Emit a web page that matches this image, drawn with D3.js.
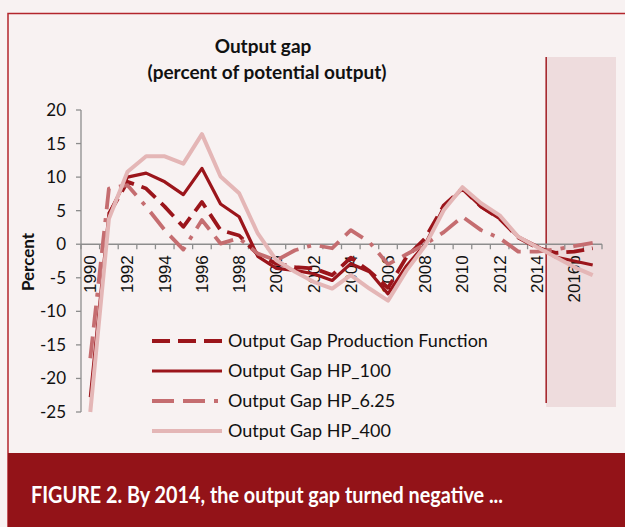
<!DOCTYPE html>
<html>
<head>
<meta charset="utf-8">
<script src="https://cdn.jsdelivr.net/npm/d3@7"></script>
<style>
  html, body { margin: 0; padding: 0; background: #f8f2f2; }
  svg { display: block; }
</style>
</head>
<body>
<div id="graf"></div>
<script>
// years on the category axis, 2016 and 2017 are projections
let years = d3.range(1990, 2018);
let yearLabels = years.map(y => y % 2 ? "" : (y >= 2016 ? y + "p" : String(y)));

let gapPF = [null, 4.5, 9.3, 8.3, 5.6, 2.6, 6.3, 2.1, 1.3, -1.5, -2.9, -3.4, -3.6, -4.6, -2.0, -4.0, -6.5, -1.9, 0.9, 5.8, 8.3, 5.6, 3.8, 1.0, -0.5, -1.3, -1.1, -0.6];
let gapHP100 = [-22.8, 4.5, 10.0, 10.6, 9.3, 7.4, 11.3, 6.0, 4.1, -1.8, -3.6, -3.9, -4.4, -5.4, -2.9, -4.1, -7.4, -3.2, 0.0, 5.5, 8.3, 5.6, 3.8, 1.1, -0.3, -1.9, -2.5, -3.1];
let gapHP625 = [-17.0, 8.3, 8.8, 5.6, 2.1, -0.8, 3.6, 0.1, 0.9, -1.4, -2.4, -0.9, -0.1, -0.6, 2.1, 0.3, -3.0, -1.5, 0.0, 1.8, 4.1, 2.1, 0.9, -1.1, -1.1, -0.8, -0.3, 0.2];
let gapHP400 = [-25.0, 3.8, 10.8, 13.1, 13.1, 12.0, 16.4, 10.1, 7.6, 1.6, -2.4, -4.1, -5.6, -6.6, -4.6, -6.6, -8.4, -3.9, -0.2, 5.1, 8.5, 6.1, 4.3, 1.1, -0.4, -1.9, -3.4, -4.6];

let seriesNames = ["Output Gap Production Function", "Output Gap HP_100", "Output Gap HP_6.25", "Output Gap HP_400"];
let yTicks = [20, 15, 10, 5, 0, -5, -10, -15, -20, -25];

let width = 625, height = 527;

let series = [
    {name: seriesNames[0], values: gapPF, color: "#9b151b", w: 3.8, dash: "18,8"},
    {name: seriesNames[1], values: gapHP100, color: "#9b151b", w: 3.2, dash: null},
    {name: seriesNames[2], values: gapHP625, color: "#c56d70", w: 3.8, dash: "22,9,22,9,4,9"},
    {name: seriesNames[3], values: gapHP400, color: "#e4b6b6", w: 4, dash: null}
];

let svg = d3.select("#graf").append("svg")
            .attr("width", width)
            .attr("height", height)
            .style("background", "#f8f2f2");

let x = d3.scaleBand().domain(years).range([81, 602]).padding(0);
let y = d3.scaleLinear().domain([-25, 20]).range([412, 110]);
let cx = d => x(d) + x.bandwidth() / 2;

// projection shading + divider between 2014 and 2015
svg.append("rect")
    .attr("x", x(2015)).attr("y", 57)
    .attr("width", 616 - x(2015)).attr("height", 350)
    .attr("fill", "#eedcdd");
svg.append("line")
    .attr("x1", x(2015)).attr("x2", x(2015))
    .attr("y1", 57).attr("y2", 403)
    .attr("stroke", "#a11c22").attr("stroke-width", 1.5);

// frame
svg.append("path")
    .attr("d", "M8,527 V13.5 H625")
    .attr("fill", "none")
    .attr("stroke", "#b3262d")
    .attr("stroke-width", 1.5);

// title
const title = svg.append("text")
    .attr("text-anchor", "middle")
    .style("font", "bold 19px Lato")
    .attr("fill", "#111");
title.append("tspan").attr("x", 263).attr("y", 53).text("Output gap");
title.append("tspan").attr("x", 267).attr("y", 79).text("(percent of potential output)");

// y axis
const axisColor = "#8d8d8d";
const yAxis = svg.append("g");
yAxis.append("line")
    .attr("x1", 81).attr("x2", 81)
    .attr("y1", y(20)).attr("y2", y(-25))
    .attr("stroke", axisColor).attr("stroke-width", 1.3);
yAxis.selectAll(".yt")
    .data(yTicks)
    .join("line")
    .attr("x1", 76).attr("x2", 81)
    .attr("y1", d => y(d)).attr("y2", d => y(d))
    .attr("stroke", axisColor).attr("stroke-width", 1.3);
yAxis.selectAll("text")
    .data(yTicks)
    .join("text")
    .attr("x", 66)
    .attr("y", d => y(d))
    .attr("dy", "0.35em")
    .attr("text-anchor", "end")
    .style("font", "17px Lato")
    .attr("fill", "#111")
    .text(d => d);

svg.append("text")
    .attr("transform", "translate(34,262) rotate(-90)")
    .attr("text-anchor", "middle")
    .style("font", "bold 17px Lato")
    .attr("fill", "#111")
    .text("Percent");

// x axis at zero
const xAxis = svg.append("g");
xAxis.append("line")
    .attr("x1", 81).attr("x2", 602)
    .attr("y1", y(0)).attr("y2", y(0))
    .attr("stroke", axisColor).attr("stroke-width", 1.5);
xAxis.selectAll(".xt")
    .data(years.concat([2018]))
    .join("line")
    .attr("x1", d => d === 2018 ? 602 : x(d))
    .attr("x2", d => d === 2018 ? 602 : x(d))
    .attr("y1", y(0)).attr("y2", y(0) + 5)
    .attr("stroke", axisColor).attr("stroke-width", 1.3);
xAxis.selectAll("text")
    .data(years.filter((d, i) => yearLabels[i] !== ""))
    .join("text")
    .attr("transform", d => `translate(${cx(d)},${y(0) + 11}) rotate(-90)`)
    .attr("dy", "0.35em")
    .attr("text-anchor", "end")
    .style("font", "17px 'Liberation Sans'")
    .attr("fill", "#111")
    .text(d => yearLabels[years.indexOf(d)]);

// series
let line = d3.line()
    .defined(d => d[1] != null)
    .x(d => cx(d[0]))
    .y(d => y(d[1]));

svg.append("g")
    .selectAll("path")
    .data(series)
    .join("path")
    .attr("fill", "none")
    .attr("stroke", d => d.color)
    .attr("stroke-width", d => d.w)
    .attr("stroke-dasharray", d => d.dash)
    .attr("stroke-linejoin", "round")
    .attr("d", d => line(years.map((yr, i) => [yr, d.values[i]])));

// legend
const legend = svg.append("g")
    .selectAll("g")
    .data(series)
    .join("g")
    .attr("transform", (d, i) => `translate(152,${341 + i * 30})`);
legend.append("line")
    .attr("x1", 0).attr("x2", 70)
    .attr("stroke", d => d.color)
    .attr("stroke-width", d => d.w)
    .attr("stroke-dasharray", d => d.dash);
legend.append("text")
    .attr("x", 76)
    .attr("dy", "0.35em")
    .style("font", "18px Lato")
    .attr("fill", "#111")
    .text(d => d.name);

// caption band
svg.append("rect")
    .attr("x", 8).attr("y", 453)
    .attr("width", width - 8).attr("height", height - 453)
    .attr("fill", "#931318");
svg.append("text")
    .attr("x", 31).attr("y", 503)
    .attr("textLength", 472)
    .attr("lengthAdjust", "spacingAndGlyphs")
    .style("font", "bold 23px Lato")
    .attr("fill", "#ffffff")
    .text("FIGURE 2. By 2014, the output gap turned negative ...");
</script>
</body>
</html>
